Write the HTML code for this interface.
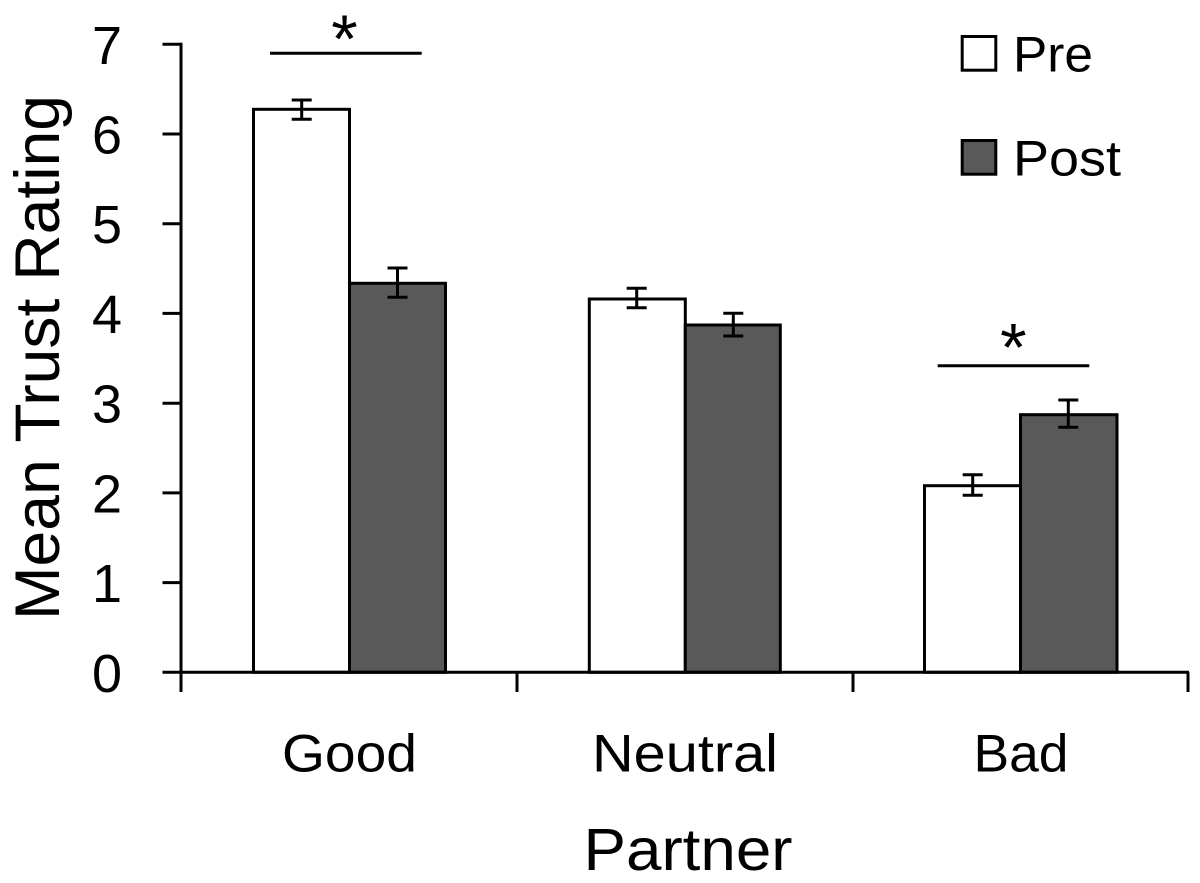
<!DOCTYPE html>
<html>
<head>
<meta charset="utf-8">
<style>
  html, body { margin: 0; padding: 0; background: #ffffff; }
  svg { display: block; }
  text { font-family: "Liberation Sans", Arial, sans-serif; fill: #000; }
</style>
</head>
<body>
<svg width="1200" height="883" viewBox="0 0 1200 883" xmlns="http://www.w3.org/2000/svg">
  <rect x="0" y="0" width="1200" height="883" fill="#ffffff"/>

  <!-- Bars -->
  <g stroke="#000" stroke-width="3" stroke-linejoin="miter">
    <!-- Good -->
    <rect x="253.5" y="109.3" width="96" height="563" fill="#ffffff"/>
    <rect x="349.5" y="283.3" width="96" height="389" fill="#595959"/>
    <!-- Neutral -->
    <rect x="589.3" y="299" width="96" height="373.3" fill="#ffffff"/>
    <rect x="685.3" y="325" width="95" height="347.3" fill="#595959"/>
    <!-- Bad -->
    <rect x="924.5" y="485.7" width="96" height="186.6" fill="#ffffff"/>
    <rect x="1020.5" y="414.7" width="96.5" height="257.6" fill="#595959"/>
  </g>

  <!-- Error bars -->
  <g stroke="#000" stroke-width="3" fill="none">
    <!-- Good pre -->
    <line x1="301.7" y1="100" x2="301.7" y2="119.3"/>
    <line x1="291.7" y1="100" x2="311.7" y2="100"/>
    <line x1="291.7" y1="119.3" x2="311.7" y2="119.3"/>
    <!-- Good post -->
    <line x1="397.5" y1="268" x2="397.5" y2="297.3"/>
    <line x1="387.5" y1="268" x2="407.5" y2="268"/>
    <line x1="387.5" y1="297.3" x2="407.5" y2="297.3"/>
    <!-- Neutral pre -->
    <line x1="636.7" y1="288.3" x2="636.7" y2="307.7"/>
    <line x1="626.7" y1="288.3" x2="646.7" y2="288.3"/>
    <line x1="626.7" y1="307.7" x2="646.7" y2="307.7"/>
    <!-- Neutral post -->
    <line x1="733.3" y1="313.3" x2="733.3" y2="336"/>
    <line x1="723.3" y1="313.3" x2="743.3" y2="313.3"/>
    <line x1="723.3" y1="336" x2="743.3" y2="336"/>
    <!-- Bad pre -->
    <line x1="972.7" y1="474.7" x2="972.7" y2="495.3"/>
    <line x1="962.7" y1="474.7" x2="982.7" y2="474.7"/>
    <line x1="962.7" y1="495.3" x2="982.7" y2="495.3"/>
    <!-- Bad post -->
    <line x1="1068.3" y1="400" x2="1068.3" y2="427.3"/>
    <line x1="1058.3" y1="400" x2="1078.3" y2="400"/>
    <line x1="1058.3" y1="427.3" x2="1078.3" y2="427.3"/>
  </g>

  <!-- Axes -->
  <g stroke="#000" stroke-width="3" fill="none">
    <line x1="181" y1="42.8" x2="181" y2="692"/>
    <line x1="162.5" y1="672.3" x2="1189" y2="672.3"/>
    <!-- y ticks -->
    <line x1="162.5" y1="44.3" x2="181" y2="44.3"/>
    <line x1="162.5" y1="134" x2="181" y2="134"/>
    <line x1="162.5" y1="223.7" x2="181" y2="223.7"/>
    <line x1="162.5" y1="313.4" x2="181" y2="313.4"/>
    <line x1="162.5" y1="403.2" x2="181" y2="403.2"/>
    <line x1="162.5" y1="492.9" x2="181" y2="492.9"/>
    <line x1="162.5" y1="582.6" x2="181" y2="582.6"/>
    <!-- x ticks -->
    <line x1="517" y1="672.3" x2="517" y2="692"/>
    <line x1="853" y1="672.3" x2="853" y2="692"/>
    <line x1="1188" y1="672.3" x2="1188" y2="692"/>
  </g>

  <!-- Y tick labels -->
  <g font-size="54" text-anchor="end">
    <text x="122" y="63.8">7</text>
    <text x="122" y="153.5">6</text>
    <text x="122" y="243.2">5</text>
    <text x="122" y="332.9">4</text>
    <text x="122" y="422.7">3</text>
    <text x="122" y="512.4">2</text>
    <text x="122" y="602.1">1</text>
    <text x="122" y="691.8">0</text>
  </g>

  <!-- Y axis title -->
  <text transform="translate(59,357.5) rotate(-90)" x="0" y="0" font-size="63" text-anchor="middle" textLength="525" lengthAdjust="spacingAndGlyphs">Mean Trust Rating</text>

  <!-- Category labels -->
  <text x="349.5" y="771.7" font-size="53" text-anchor="middle" textLength="135" lengthAdjust="spacingAndGlyphs">Good</text>
  <text x="685" y="771.7" font-size="53" text-anchor="middle" textLength="186" lengthAdjust="spacingAndGlyphs">Neutral</text>
  <text x="1021" y="771.7" font-size="53" text-anchor="middle" textLength="95" lengthAdjust="spacingAndGlyphs">Bad</text>

  <!-- X axis title -->
  <text x="688" y="870" font-size="59.5" text-anchor="middle" textLength="209" lengthAdjust="spacingAndGlyphs">Partner</text>

  <!-- Significance markers -->
  <g stroke="#000" stroke-width="3">
    <line x1="270" y1="53.3" x2="421.7" y2="53.3"/>
    <line x1="937.7" y1="365.7" x2="1089.3" y2="365.7"/>
  </g>
  <text x="344.5" y="62" font-size="68" text-anchor="middle">*</text>
  <text x="1013.3" y="370.4" font-size="68" text-anchor="middle">*</text>

  <!-- Legend -->
  <rect x="962.2" y="36.5" width="33.6" height="33.7" fill="#ffffff" stroke="#000" stroke-width="3"/>
  <rect x="962.2" y="140.5" width="33.6" height="33.7" fill="#595959" stroke="#000" stroke-width="3"/>
  <text x="1013" y="71.7" font-size="50" textLength="80" lengthAdjust="spacingAndGlyphs">Pre</text>
  <text x="1013" y="175.7" font-size="50" textLength="108" lengthAdjust="spacingAndGlyphs">Post</text>
</svg>
</body>
</html>
